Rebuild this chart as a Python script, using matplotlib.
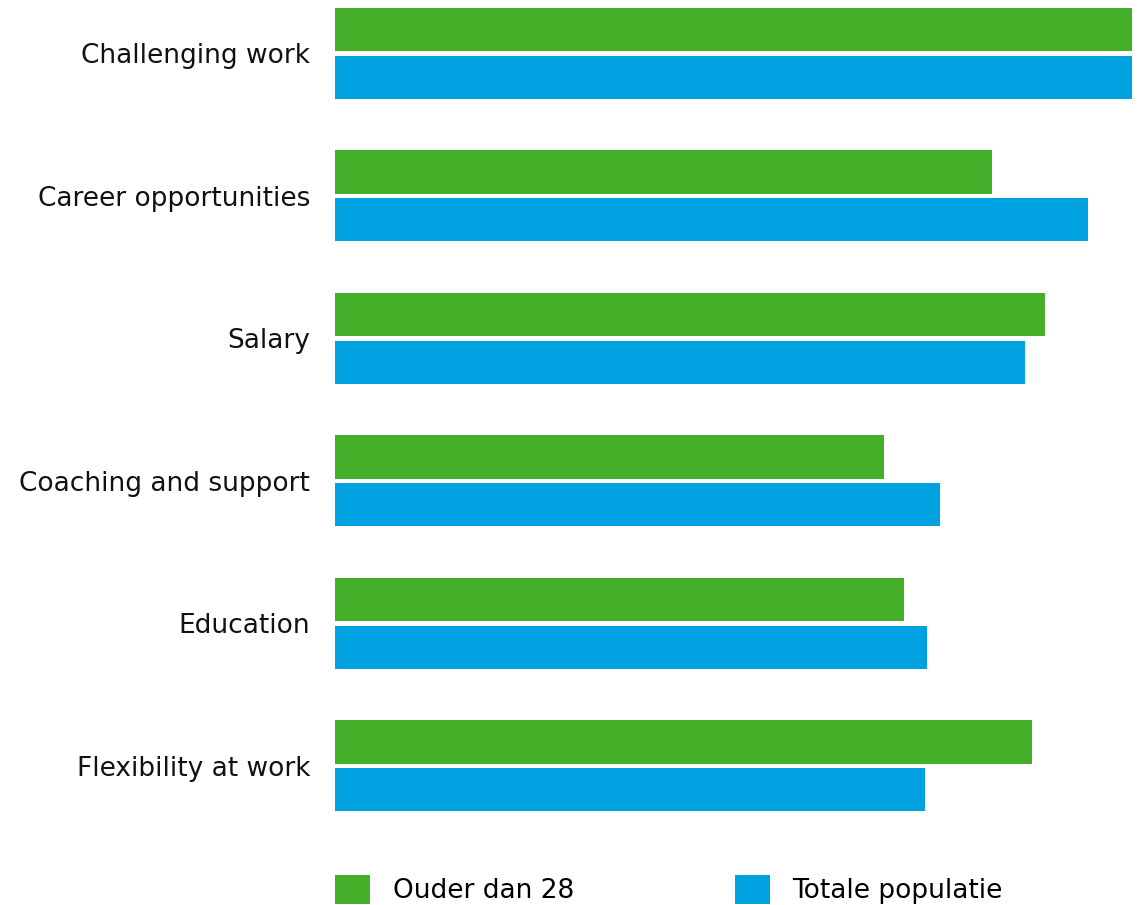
import numpy as np
import matplotlib.pyplot as plt
from matplotlib.patches import Patch

# Categories, top to bottom
categories = ["Challenging work", "Career opportunities", "Salary",
              "Coaching and support", "Education", "Flexibility at work"]
ouder_dan_28 = [100.0, 82.4, 89.1, 68.9, 71.4, 87.5]
totale_populatie = [100.0, 94.5, 86.6, 75.9, 74.3, 74.0]
series_names = ["Ouder dan 28", "Totale populatie"]

GREEN = "#44B02A"
BLUE = "#00A1E0"

plt.rcParams['font.family'] = ['DejaVu Sans']

fig = plt.figure(figsize=(11.4, 9.05), dpi=100)
ax = fig.add_axes([335 / 1140, 0.0749, 797 / 1140, 0.918])

y = np.arange(len(categories))
h = 0.305
off = 0.167
ax.barh(y - off, ouder_dan_28, height=h, color=GREEN, linewidth=0)
ax.barh(y + off, totale_populatie, height=h, color=BLUE, linewidth=0)

ax.set_xlim(0, 100)
ax.set_ylim(5.5, -0.33)
ax.set_yticks(y)
ax.set_yticklabels(categories, fontsize=19, color="#111111")
ax.tick_params(axis="y", length=0, pad=18)
ax.set_xticks([])
for s in ax.spines.values():
    s.set_visible(False)

handles = [Patch(facecolor=GREEN, linewidth=0), Patch(facecolor=BLUE, linewidth=0)]
fig.legend(handles, series_names, loc="upper left",
           bbox_to_anchor=(335 / 1140, 30 / 905), ncol=2, frameon=False,
           fontsize=19, borderpad=0, borderaxespad=0,
           handlelength=1.33, handleheight=1.33, handletextpad=0.85,
           columnspacing=6.11)

fig.savefig("out.png", dpi=100)
